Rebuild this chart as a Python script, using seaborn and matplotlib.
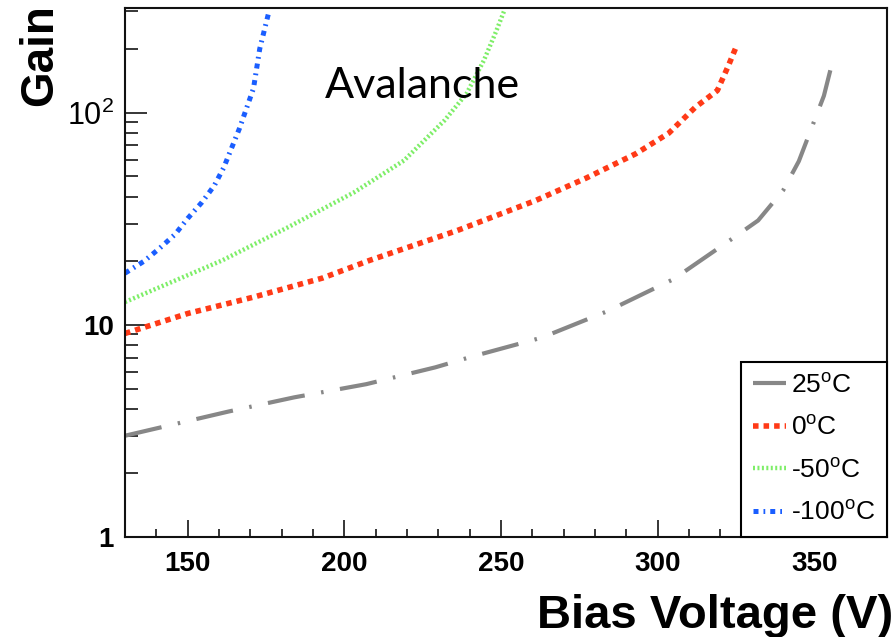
import numpy as np
import pandas as pd
import matplotlib
matplotlib.use('Agg')
import matplotlib.pyplot as plt
import matplotlib.ticker as mticker
import seaborn as sns

# gain curves (bias voltage in V)
v25 = [130, 163, 184, 207, 229, 241, 263, 284, 305, 323.5, 332, 340, 345, 353, 356]
g25 = [3.0, 3.9, 4.55, 5.25, 6.3, 7.1, 8.7, 11.6, 16.4, 25.3, 31, 43, 59, 120, 180]

v0 = [130, 150, 171, 193, 208, 236, 261, 277, 293, 303.5, 312, 319, 322.5, 325]
g0 = [9.1, 11.3, 13.5, 16.6, 20.1, 27.8, 38.5, 49, 64, 80, 106, 127, 166, 204]

v50 = [130, 161, 182, 203, 219, 232, 239, 244.5, 248.5, 251]
g50 = [12.8, 20.1, 28.8, 42, 59.4, 92, 123, 176, 243, 302]

v100 = [130, 136, 141, 146, 150, 154.5, 158.5, 161.5, 166.5, 171, 173, 176]
g100 = [17.5, 19.9, 22.9, 26.7, 31.7, 37.7, 45.3, 55, 84, 130, 200, 302]

labels = ['25$^{\\mathrm{o}}$C', '0$^{\\mathrm{o}}$C', '-50$^{\\mathrm{o}}$C', '-100$^{\\mathrm{o}}$C']
xticks = [150, 200, 250, 300, 350]
ytick_vals = [1, 10, 100]
ytick_text = ['1', '10', '$10^{2}$']

sns.set_style('ticks')
plt.rcParams['font.family'] = ['Liberation Sans', 'DejaVu Sans']
plt.rcParams['mathtext.fontset'] = 'custom'
plt.rcParams['mathtext.rm'] = 'Liberation Sans'
plt.rcParams['mathtext.it'] = 'Liberation Sans:italic'
plt.rcParams['mathtext.bf'] = 'Liberation Sans:bold'
plt.rcParams['text.color'] = 'black'
plt.rcParams['xtick.color'] = 'black'
plt.rcParams['ytick.color'] = 'black'
plt.rcParams['axes.labelcolor'] = 'black'

fig = plt.figure(figsize=(8.96, 6.37), dpi=100)
ax = fig.add_axes([0.1395, 0.157, 0.850, 0.830])

series = [
    (v25, g25, labels[0], '#878787', 3.0, (0, (9, 4, 0.6, 4))),
    (v0, g0, labels[1], '#ff3a17', 4.0, (0, (1, 0.9))),
    (v50, g50, labels[2], '#7eee68', 3.2, (0, (0.45, 0.55))),
    (v100, g100, labels[3], '#1a5eff', 3.6, (0, (1, 1, 0.35, 1))),
]
for v, g, lab, col, lw, ls in series:
    df = pd.DataFrame({'V': v, 'G': g})
    sns.lineplot(data=df, x='V', y='G', ax=ax, color=col, linewidth=lw,
                 linestyle=ls, label=lab, dash_capstyle='butt')

ax.set_yscale('log')
ax.set_xlim(130, 373)
ax.set_ylim(1, 310)

ax.xaxis.set_major_locator(mticker.FixedLocator(xticks))
ax.xaxis.set_minor_locator(mticker.MultipleLocator(10))
ax.yaxis.set_major_locator(mticker.FixedLocator(ytick_vals))
ax.yaxis.set_major_formatter(mticker.FixedFormatter(ytick_text))
ax.yaxis.set_minor_locator(mticker.LogLocator(base=10, subs=np.arange(2, 10)))
ax.yaxis.set_minor_formatter(mticker.NullFormatter())

ax.tick_params(axis='x', which='major', direction='in', length=12, width=1.1,
               labelsize=20, pad=10)
ax.tick_params(axis='x', which='minor', direction='in', length=6, width=1.1)
ax.tick_params(axis='y', which='major', direction='in', length=16, width=1.1,
               labelsize=20, pad=8)
ax.tick_params(axis='y', which='minor', direction='in', length=9, width=1.1)
for t in ax.get_xticklabels():
    t.set_fontweight('bold')
yl = ax.get_yticklabels()
yl[0].set_fontweight('bold')
yl[1].set_fontweight('bold')
yl[2].set_fontsize(22)

for s in ax.spines.values():
    s.set_linewidth(1.5)
    s.set_color('#111111')

ax.set_xlabel('Bias Voltage (V)', fontsize=34, fontweight='bold', loc='right')
ax.xaxis.set_label_coords(1.009, -0.108)
ax.set_ylabel('Gain', fontsize=33, fontweight='bold', loc='top')
ax.yaxis.set_label_coords(-0.082, 1.008)

leg = ax.legend(loc='lower right', bbox_to_anchor=(1, 0), borderaxespad=0,
                fancybox=False, edgecolor='black', framealpha=1, fontsize=19,
                handlelength=1.25, handletextpad=0.18, labelspacing=0.7,
                borderpad=0.45)
leg.get_frame().set_linewidth(1.5)

fig.text(0.363, 0.846, 'Avalanche', fontsize=31, family=['Lato', 'DejaVu Sans'],
         va='baseline', ha='left')

fig.savefig('out.png', dpi=100)
